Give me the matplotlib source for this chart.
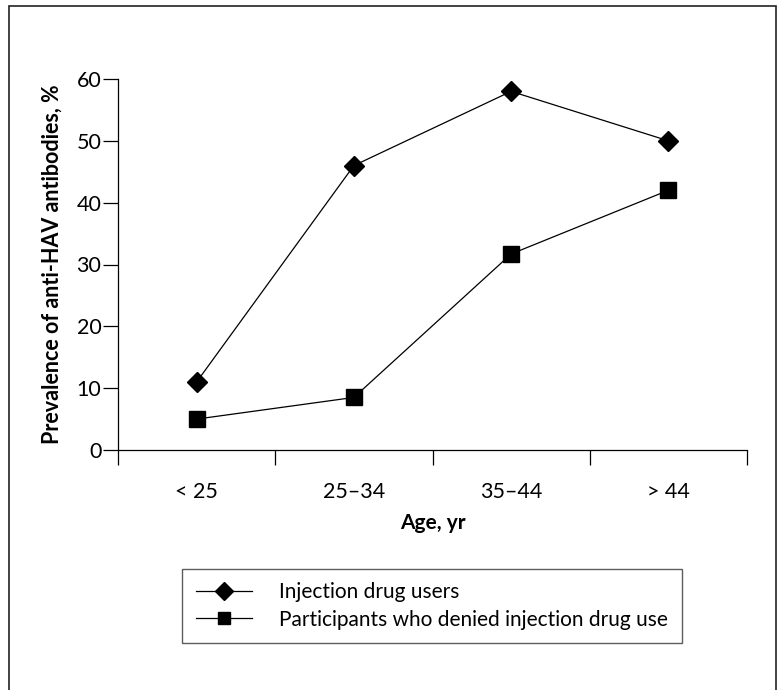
import matplotlib
matplotlib.use("Agg")
import matplotlib.pyplot as plt
from matplotlib.patches import Rectangle
from matplotlib.lines import Line2D

categories = ["< 25", "25\u201334", "35\u201344", "> 44"]
idu = [11, 46, 58, 50]
non_idu = [5, 8.5, 31.7, 42]
yticks = [0, 10, 20, 30, 40, 50, 60]
series_labels = ['Injection drug users',
                 'Participants who denied injection drug use']

tick_font = ['Lato', 'DejaVu Sans']
text_font = ['Lato', 'DejaVu Sans']

fig = plt.figure(figsize=(7.78, 6.90), dpi=100)
fig.patches.append(Rectangle((9/778, -0.1), (776-9)/778, 1.1 - 6/690,
                             transform=fig.transFigure, fill=False,
                             edgecolor='#222222', linewidth=1.2))

ax = fig.add_axes([118/778, 1-450/690, (747-118)/778, (450-79)/690])
x = list(range(len(categories)))
ax.plot(x, idu, color='black', linewidth=0.9, marker='D', markersize=10,
        clip_on=False, label=series_labels[0])
ax.plot(x, non_idu, color='black', linewidth=0.9, marker='s', markersize=11,
        clip_on=False, label=series_labels[1])

ax.set_xlim(-0.5, 3.5)
ax.set_ylim(0, 60)
ax.spines['top'].set_visible(False)
ax.spines['right'].set_visible(False)
ax.spines['left'].set_linewidth(0.9)
ax.spines['bottom'].set_linewidth(0.9)

ax.set_yticks(yticks)
ax.set_yticklabels([str(v) for v in yticks], family=tick_font, fontsize=15.5)
ax.tick_params(axis='y', direction='out', length=11, width=0.9, pad=1)

ax.set_xticks([-0.5, 0.5, 1.5, 2.5, 3.5])
ax.set_xticklabels([])
ax.tick_params(axis='x', which='major', direction='out', length=11, width=0.9)
ax.set_xticks(x, minor=True)
ax.set_xticklabels(categories, minor=True, family=tick_font, fontsize=15.5)
ax.tick_params(axis='x', which='minor', length=0, pad=23)

ax.set_ylabel("Prevalence of anti-HAV antibodies, %", family=text_font,
              fontweight='bold', fontsize=15.5, labelpad=10)
ax.set_xlabel("Age, yr", family=text_font, fontweight='bold', fontsize=15,
              labelpad=8)

handles = [Line2D([], [], color='black', linewidth=0.9, marker='D', markersize=9),
           Line2D([], [], color='black', linewidth=0.9, marker='s', markersize=8)]
leg = fig.legend(handles, series_labels,
                 loc='center', bbox_to_anchor=(432/778, 1-606/690),
                 prop={'family': text_font, 'size': 15}, frameon=True,
                 fancybox=False, edgecolor='#333333', handlelength=2.7,
                 handletextpad=1.3, borderpad=0.65, labelspacing=0.35,
                 borderaxespad=0)
leg.get_frame().set_linewidth(1.0)

fig.savefig("out.png", dpi=100)
